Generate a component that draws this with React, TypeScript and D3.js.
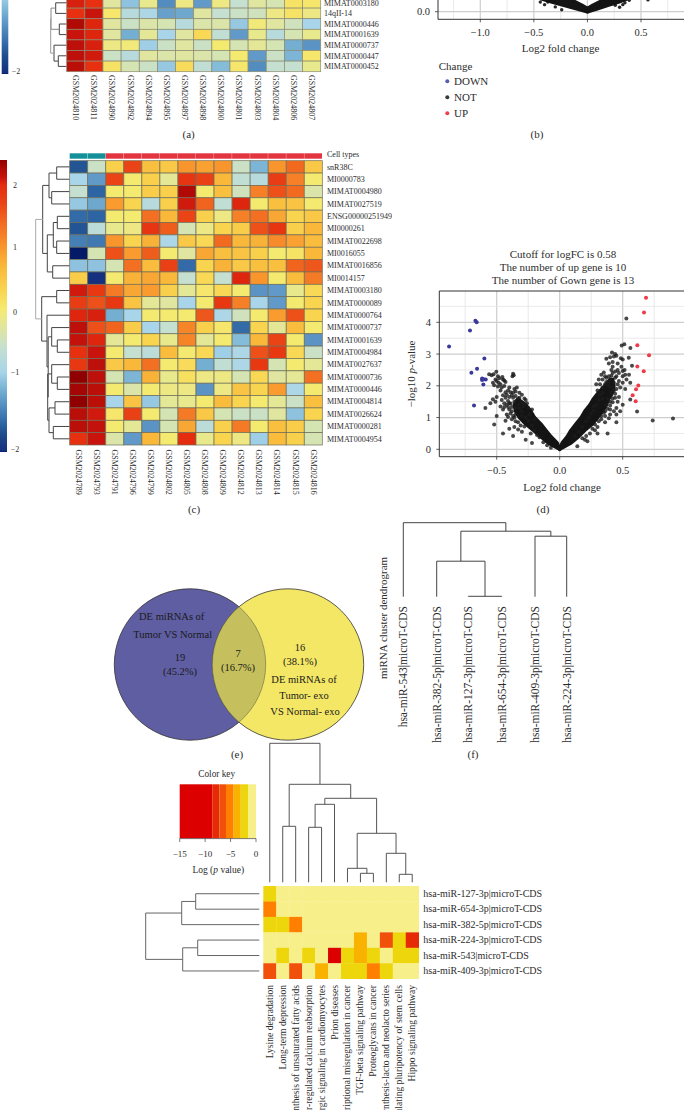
import React from "react";
import * as d3 from "d3";

const SERIF = "'Liberation Serif', serif";
const INK = "#2c2c2c";

// ---------- heat map values ----------
const samplesA = ["GSM2024810","GSM2024811","GSM2024890","GSM2024892","GSM2024894","GSM2024895","GSM2024897","GSM2024898","GSM2024800","GSM2024801","GSM2024803","GSM2024804","GSM2024806","GSM2024807"];
const rowsA = ["MIMAT0003180","14qII-14","MIMAT0000446","MIMAT0001639","MIMAT0000737","MIMAT0000447","MIMAT0000452"];
const valuesA = [
  [2.1,1.95,-0.2,-0.9,-0.1,-1.3,-0.05,-1.2,-0.05,-0.45,-0.2,-0.3,0.15,0.1],
  [1.95,2.2,0.1,-0.6,-0.7,-1.15,-1.1,-0.2,-0.45,-0.4,-0.35,-0.05,0.15,-0.05],
  [2.45,2.05,-0.2,-0.4,-0.25,-0.3,-0.6,-0.25,-0.25,-0.85,0,-0.2,-0.35,-0.75],
  [2.2,2.05,-0.2,-1.05,-0.15,-0.75,-0.2,0.3,-0.5,-1.2,-0.1,-0.6,-0.3,-0.1],
  [2.3,2.1,-0.05,0,-0.8,-0.4,-0.2,-0.4,0.05,-0.3,-0.15,-0.3,-1.05,-1.25],
  [2.3,2.15,-0.4,-0.6,-0.2,-0.25,-0.2,-0.25,-0.3,0.05,-1.2,-0.4,-1.0,0.1],
  [2.35,1.95,0.15,-0.3,-0.4,-0.85,0.25,-0.5,-0.95,0.1,-1.3,-0.45,-0.45,-0.1],
];
const samplesC = ["GSM2024789","GSM2024793","GSM2024791","GSM2024796","GSM2024799","GSM2024802","GSM2024805","GSM2024808","GSM2024809","GSM2024812","GSM2024813","GSM2024814","GSM2024815","GSM2024816"];
const rowsC = ["snR38C","MI0000783","MIMAT0004980","MIMAT0027519","ENSG00000251949","MI0000261","MIMAT0022698","MI0016055","MIMAT0016856","MI0014157","MIMAT0003180","MIMAT0000089","MIMAT0000764","MIMAT0000737","MIMAT0001639","MIMAT0004984","MIMAT0027637","MIMAT0000736","MIMAT0000446","MIMAT0004814","MIMAT0026624","MIMAT0000281","MIMAT0004954"];
const valuesC = [
  [-1.7,-0.4,0.4,1.7,0.6,0.5,1.0,0.9,1.0,-0.4,-1.0,1.0,1.4,0.5],
  [-0.75,-1.2,1.7,0.05,0.4,-0.15,1.9,1.75,0.7,-0.5,-0.6,1.8,1.2,0.05],
  [-0.45,-1.6,0.05,0.05,0.45,0.4,2.45,0.05,0.6,-0.35,1.2,1.6,1.4,-0.25],
  [-0.85,-1.1,0.95,0.35,-0.6,0.4,2.15,1.45,-0.5,2.05,0.05,0.6,0.55,0.05],
  [-1.55,-1.6,0.05,0.05,1.35,0.7,1.7,0.4,-0.05,1.2,1.35,0.85,0.35,0.5],
  [-1.7,-0.55,-0.1,-0.05,1.9,1.5,-0.3,-0.05,0.35,0.45,1.6,1.9,0.4,0.7],
  [-1.4,-1.45,1.0,0.35,0.75,-0.7,0.5,0.3,1.4,0.7,0.75,1.1,0.9,0.65],
  [-2.2,-0.3,1.6,0.95,1.5,0.05,-0.2,0.85,0.6,0.55,0.4,0.05,0.15,0.7],
  [-0.9,-0.9,-0.3,1.35,0.65,1.75,-1.55,0.35,0.75,0.5,0.6,0.6,1.45,1.55],
  [0.45,-2.1,0.05,0.75,0.85,0.7,-0.45,0.3,-0.45,2.05,1.0,0.05,0.65,1.25],
  [2.15,1.85,1.25,0.85,0.95,0.4,-0.15,0.1,0.3,0.05,-1.25,-1.2,-0.1,0.3],
  [1.8,1.6,1.85,0.55,-0.15,-0.2,-0.75,0.05,1.85,1.2,-0.75,-1.2,0.05,0.35],
  [2.05,2.1,-1.05,-0.75,0.05,0.05,0.05,1.55,-0.7,-0.35,0.05,0.95,1.6,0.35],
  [2.3,1.6,1.45,0.45,-0.75,-0.45,1.15,0.4,0.1,-1.55,0.35,-0.15,0.65,0.05],
  [2.25,2.05,-0.15,0.05,0.35,-0.1,1.15,-0.15,0.05,-0.95,0.7,1.7,0.05,-1.25],
  [1.95,2.2,0.05,-0.45,-0.55,0.65,0.05,0.3,-0.8,-0.7,1.6,1.85,0.3,-0.4],
  [1.85,2.3,0.5,0.7,1.35,0.05,0.25,-1.05,-0.5,-0.7,1.85,-0.3,0.05,-0.15],
  [2.7,2.3,-0.3,-1.0,0.75,-0.1,0.2,-0.05,-0.05,-0.3,0.3,-0.2,-0.15,1.35],
  [2.55,2.35,0.05,-0.25,0.05,-0.05,-0.05,-1.25,-0.05,0.55,0.35,0.95,-0.7,0.05],
  [2.7,2.35,-0.75,0.55,-0.85,-0.15,-0.1,0.05,0.65,0.35,0.05,-0.15,-0.4,0.6],
  [2.35,2.15,0.1,1.75,0.05,-0.3,1.25,0.5,-0.3,-0.4,-0.4,-0.2,-0.9,0.35],
  [2.35,2.25,0.05,-0.15,-1.25,-0.3,0.85,-0.55,0.4,1.25,0.05,0.6,0.45,-0.3],
  [1.95,2.2,-0.25,-1.2,0.7,0.05,2.0,-0.1,0.35,-0.05,-0.8,0.65,0.4,-0.3],
];
const cellTypeColors = ["#14909a","#14909a","#e2353f","#e2353f","#e2353f","#e2353f","#e2353f","#e2353f","#e2353f","#e2353f","#e2353f","#e2353f","#e2353f","#e2353f"];

const zStops = [-2.2,-2.1,-1.75,-1.6,-1.25,-1.05,-0.75,-0.45,-0.2,0.05,0.35,0.7,1,1.4,1.7,2,2.2,2.45,2.7];
const zColors = ["#041a66","#14307f","#1f4e8c","#2c64a4","#5a93c4","#74afd2","#a8d5ea","#c5e0d0","#e0e6a0","#f5ea70","#f9d44f","#f9b83a","#f9952d","#f26a20","#ea4416","#e52c0f","#c8140c","#b00a06","#900000"];
const barValues = [-2.2,-2,-0.75,0,1,2,2.7];
const barPositions = [452,449,372,312,247,185,160];
const barTicksC = [-2,-0.75,0,1,2];
const barTickLabelsC = ["−2","−1","0","1","2"];
const barTicksA = [-2];
const barTickLabelsA = ["−2"];

// ---------- dendrograms (h = merge height) ----------
type Tree = number | { h: number; k: [Tree, Tree]; tone?: string };
const treeA: Tree = { h: 16, tone: "#999", k: [
  { h: 15.7, tone: "#888", k: [{ h: 11, k: [0, 1] }, { h: 7.4, k: [2, 3] }] },
  { h: 12.7, k: [4, { h: 8.4, k: [5, 6] }] },
] };
const treeC: Tree = { h: 34, tone: "#aaa", k: [
  { h: 27, k: [
    { h: 20.7, k: [{ h: 13, k: [0, 1] }, { h: 18, k: [2, 3] }] },
    { h: 22.4, k: [
      { h: 16.4, k: [{ h: 12.4, k: [4, 5] }, { h: 13, k: [6, 7] }] },
      { h: 17, k: [8, 9] },
    ] },
  ] },
  { h: 28, k: [
    { h: 13, k: [10, 11] },
    { h: 22.7, k: [12, { h: 21.5, k: [
      { h: 18, k: [13, { h: 12.4, k: [14, 15] }] },
      { h: 22, k: [
        { h: 18, k: [16, { h: 12.4, k: [17, 18] }] },
        { h: 20.7, k: [{ h: 14.7, k: [19, 20] }, { h: 16.4, k: [21, 22] }] },
      ] },
    ] }] },
  ] },
] };
const treeF: Tree = { h: 74, k: [0, { h: 65.5, k: [
  { h: 35.5, k: [1, { h: 0.4, k: [2, 3] }] },
  { h: 60.5, k: [4, 5] },
] }] };
const treeGTop: Tree = { h: 139, k: [0, { h: 98, k: [
  { h: 56, k: [1, 2] },
  { h: 84, k: [
    { h: 78, k: [{ h: 55, k: [3, 4] }, 5] },
    { h: 49, k: [
      { h: 14, k: [6, { h: 9, k: [7, 8] }] },
      { h: 29, k: [9, { h: 8, k: [10, 11] }] },
    ] },
  ] },
] }] };
const treeGLeft: Tree = { h: 113.6, k: [
  { h: 77.6, k: [{ h: 63.6, k: [0, 1] }, 2] },
  { h: 76.6, k: [{ h: 61.6, k: [3, 4] }, 5] },
] };
const treeFLabels = ["hsa-miR-543|microT-CDS","hsa-miR-382-5p|microT-CDS","hsa-miR-127-3p|microT-CDS","hsa-miR-654-3p|microT-CDS","hsa-miR-409-3p|microT-CDS","hsa-miR-224-3p|microT-CDS"];

// ---------- volcano (b) ----------
const coreBLeftY = [0,0.1,0.2,0.3,0.4,0.5];
const coreBLeftOuter = [0,-0.11,-0.22,-0.33,-0.43,-0.5];
const coreBLeftInner = [0,0,-0.05,-0.11,-0.17,-0.23];
const coreBRightY = [0,0.1,0.2,0.3,0.4,0.5];
const coreBRightOuter = [0,0.1,0.19,0.29,0.37,0.42];
const coreBRightInner = [0,0,0.05,0.11,0.17,0.23];
const notB = [[0.565,0.37],[0.565,0.42],[-0.44,0.3],[-0.4,0.22],[-0.37,0.3],[-0.3,0.15],[-0.24,0.06],[0.26,0.2],[0.3,0.14],[0.35,0.28],[0.33,0.22],[0.39,0.36]];

// ---------- volcano (d) ----------
const coreDLeftY = [0,0.2,0.4,0.6,0.8,1,1.2,1.4,1.55];
const coreDLeftOuter = [0,-0.09,-0.15,-0.21,-0.27,-0.32,-0.35,-0.36,-0.34];
const coreDLeftInner = [0,-0.02,-0.07,-0.11,-0.15,-0.2,-0.23,-0.27,-0.32];
const coreDRightY = [0,0.2,0.4,0.6,0.8,1,1.2,1.4,1.6,1.8,2,2.2];
const coreDRightOuter = [0,0.09,0.15,0.2,0.26,0.3,0.34,0.37,0.39,0.42,0.43,0.42];
const coreDRightInner = [0,0.02,0.06,0.09,0.13,0.17,0.2,0.24,0.27,0.31,0.36,0.4];
const notD = [[-0.503,2.44],[-0.54,2.33],[-0.56,2.36],[-0.525,2.36],[-0.49,2.3],[-0.51,2.2],[-0.5,2.15],[-0.53,2.1],[-0.485,2.1],[-0.47,2.05],[-0.45,2.2],[-0.44,2.17],[-0.43,2.12],[-0.37,2.38],[-0.375,2.3],[-0.365,2.33],[-0.44,1.99],[-0.47,1.85],[-0.41,1.85],[-0.39,1.8],[-0.34,1.95],[-0.35,1.82],[-0.38,1.7],[-0.4,1.65],[-0.43,1.62],[-0.45,1.7],[-0.5,1.65],[-0.53,1.58],[-0.51,1.5],[-0.55,1.45],[-0.59,1.3],[-0.46,1.55],[-0.44,1.45],[-0.42,1.4],[-0.47,1.35],[-0.45,1.25],[-0.5,1.05],[-0.42,1.1],[-0.38,1.2],[-0.36,1.5],[-0.33,1.6],[-0.3,1.72],[-0.27,1.55],[-0.26,1.45],[-0.33,1.4],[-0.4,1.25],[-0.35,1.3],[-0.31,1.5],[-0.29,1.35],[-0.25,1.3],[-0.37,1.05],[-0.38,0.95],[-0.33,0.85],[-0.43,0.9],[-0.52,0.78],[-0.45,0.5],[-0.37,0.42],[-0.4,0.65],[-0.3,0.55],[-0.27,0.3],[-0.22,0.2],[-0.23,0.5],[-0.36,0.7],[-0.24,1.1],[-0.22,1.25],[-0.2,0.95],[-0.3,1.2],[-0.28,1.4],[-0.32,1.62],
[-0.41,1.52],[-0.39,1.44],[-0.37,1.62],[-0.35,1.68],[-0.42,1.72],[-0.37,1.78],[-0.32,1.78],[-0.36,1.9],[-0.4,1.95],[-0.43,1.8],[-0.46,1.95],[-0.49,1.98],[-0.52,2.02],[-0.48,2.24],[-0.455,2.28],[-0.41,1.33],[-0.38,1.33],[-0.39,1.13],[-0.41,1.02],[-0.36,1.0],[-0.35,1.1],[-0.32,1.3],[-0.3,1.46],[-0.28,1.6],[-0.3,1.05],[-0.27,1.0],[-0.25,0.9],[-0.22,0.75],[-0.2,0.6],[-0.18,0.45],[-0.16,0.38],[-0.13,0.22],[-0.1,0.13],[-0.07,0.05],[-0.28,0.72],[-0.33,0.62],[-0.31,0.75],[-0.35,0.88],[-0.4,1.45],[-0.44,1.33],
[0.529,4.12],[0.492,3.27],[0.513,3.31],[0.561,3.19],[0.548,2.88],[0.574,2.63],[0.899,0.97],[0.738,0.91],[0.614,1.19],[0.56,1.57],[0.415,3.05],[0.44,3.0],[0.45,2.95],[0.4,2.9],[0.37,2.85],[0.43,2.92],[0.485,2.87],[0.5,2.83],[0.42,2.75],[0.39,2.7],[0.46,2.7],[0.49,2.6],[0.515,2.5],[0.41,2.5],[0.44,2.45],[0.5,2.47],[0.52,2.35],[0.47,2.4],[0.5,2.3],[0.53,2.2],[0.55,2.35],[0.45,2.3],[0.42,2.4],[0.35,2.42],[0.33,2.35],[0.31,2.2],[0.37,2.25],[0.4,2.2],[0.43,2.1],[0.47,2.15],[0.5,2.1],[0.56,2.1],[0.48,1.95],[0.45,1.9],[0.42,1.95],[0.39,2.0],[0.36,2.05],[0.32,2.05],[0.29,2.05],[0.44,1.75],[0.47,1.65],[0.42,1.6],[0.5,1.4],[0.45,1.3],[0.4,1.25],[0.37,1.4],[0.48,1.2],[0.45,1.1],[0.39,0.98],[0.45,0.85],[0.36,0.85],[0.3,0.7],[0.38,0.5],[0.3,0.5],[0.2,0.3],[0.22,0.25],[0.14,0.1],[0.52,1.9],[0.46,2.5],[0.42,2.6],[0.36,2.3],[0.34,2.2],[0.41,1.8],[0.38,1.6],[0.4,1.5],[0.35,1.15],[0.33,0.95],[0.28,0.6],
[0.43,1.85],[0.41,1.72],[0.44,1.62],[0.42,1.48],[0.4,1.38],[0.38,1.28],[0.36,1.2],[0.36,1.05],[0.33,1.05],[0.31,0.88],[0.28,0.78],[0.26,0.65],[0.24,0.5],[0.21,0.42],[0.18,0.35],[0.27,1.22],[0.25,1.12],[0.23,1.0],[0.21,0.88],[0.18,0.7],[0.15,0.55],[0.12,0.42],[0.29,1.4],[0.27,1.35],[0.31,1.55],[0.34,1.78],[0.32,1.72],[0.3,1.85],[0.34,1.95],[0.37,2.12],[0.39,2.3],[0.41,2.32],[0.44,2.25],[0.46,2.05],[0.39,2.12],[0.34,1.6],[0.46,1.5],[0.43,1.2],[0.4,1.1]];
const upD = [[0.685,4.77],[0.669,4.31],[0.616,3.28],[0.709,2.96],[0.616,2.61],[0.667,2.46],[0.624,2.01],[0.606,1.89],[0.579,1.7],[0.603,1.51]];
const downD = [[-0.878,3.24],[-0.669,4.05],[-0.659,4.0],[-0.712,3.74],[-0.598,2.86],[-0.656,2.54],[-0.701,2.41],[-0.616,2.23],[-0.603,2.21],[-0.587,2.2],[-0.606,2.04],[-0.68,1.38],[-0.616,2.18]];
const titleD = ["Cutoff for logFC is 0.58","The number of up gene is 10","The number of Gown gene is 13"];
const legendItems = ["DOWN","NOT","UP"];
const legendColors = ["#5a5ab0","#3a3a3a","#f04050"];

// ---------- pathway heat map (g) ----------
const pathways = ["Lysine degradation","Long-term depression","Biosynthesis of unsaturated fatty acids","Endocrine and other factor-regulated calcium reabsorption","Adrenergic signaling in cardiomyocytes","Prion diseases","Transcriptional misregulation in cancer","TGF-beta signaling pathway","Proteoglycans in cancer","Glycosphingolipid biosynthesis-lacto and neolacto series","Signaling pathways regulating pluripotency of stem cells","Hippo signaling pathway"];
const mirnas = ["hsa-miR-127-3p|microT-CDS","hsa-miR-654-3p|microT-CDS","hsa-miR-382-5p|microT-CDS","hsa-miR-224-3p|microT-CDS","hsa-miR-543|microT-CDS","hsa-miR-409-3p|microT-CDS"];
const pValues = [
  [-2.2,-0.5,-0.5,-0.5,-0.5,-0.5,-0.5,-0.5,-0.5,-0.5,-0.5,-0.5],
  [-5,-0.5,-0.5,-0.5,-0.5,-0.5,-0.5,-0.5,-0.5,-0.5,-0.5,-0.5],
  [-2.2,-2.2,-5,-0.5,-0.5,-0.5,-0.5,-0.5,-0.5,-0.5,-0.5,-0.5],
  [-0.5,-0.5,-0.5,-0.5,-0.5,-0.5,-0.5,-3.5,-0.5,-6.5,-2.2,-8],
  [-0.5,-2.2,-0.5,-2.2,-0.5,-12,-2.2,-3.5,-2.2,-0.5,-2.2,-2.2],
  [-6.5,-0.5,-6.5,-0.5,-3.5,-0.5,-2.2,-2.2,-5,-2.2,-0.5,-0.5],
];
const keyEdges = [-15,-8.6,-7.2,-5.9,-4.4,-3.0,-1.57,0];
const keyColors = ["#dc0000","#e62a06","#f0500a","#ff8000","#fab200","#eed60c","#f7ef8a"];
const keyTicks = [-15,-10,-5,0];

// ---------- venn (e) ----------
const vennPercent = ["19","(45.2%)","7","(16.7%)","16","(38.1%)"];

const zColor = d3.scaleLinear<string>().domain(zStops).range(zColors).interpolate(d3.interpolateRgb);
const barY = d3.scaleLinear().domain(barValues).range(barPositions);

function dendroPath(tree: Tree, pos: (i: number) => number, hPos: (h: number) => number, vertical: boolean) {
  const out: { d: string; tone?: string }[] = [];
  const pt = (p: number, h: number) => (vertical ? `${p},${hPos(h)}` : `${hPos(h)},${p}`);
  const walk = (t: Tree): { p: number; h: number } => {
    if (typeof t === "number") return { p: pos(t), h: 0 };
    const a = walk(t.k[0]);
    const b = walk(t.k[1]);
    out.push({ d: `M${pt(a.p, a.h)}L${pt(a.p, t.h)}L${pt(b.p, t.h)}L${pt(b.p, b.h)}`, tone: t.tone });
    return { p: (a.p + b.p) / 2, h: t.h };
  };
  walk(tree);
  return out;
}

function Dendro({ tree, pos, hPos, vertical = false, stroke = "#444", width = 1 }: any) {
  return (
    <g fill="none" stroke={stroke} strokeWidth={width}>
      {dendroPath(tree, pos, hPos, vertical).map((s, i) => (
        <path key={i} d={s.d} stroke={s.tone || stroke} />
      ))}
    </g>
  );
}

function Heat({ values, samples, rows, x0, x1, y0, y1, labelX, sampleY, stroke }: any) {
  const x = d3.scaleBand<number>().domain(d3.range(samples.length)).range([x0, x1]);
  const y = d3.scaleBand<number>().domain(d3.range(rows.length)).range([y0, y1]);
  return (
    <g>
      {values.map((r: number[], i: number) =>
        r.map((v, j) => (
          <rect key={`${i}-${j}`} x={x(j)} y={y(i)} width={x.bandwidth()} height={y.bandwidth()} fill={zColor(v)} stroke={stroke} strokeWidth={0.7} />
        ))
      )}
      {rows.map((t: string, i: number) => (
        <text key={t + i} x={labelX} y={y(i)! + y.bandwidth() / 2 + 2.7} fontSize={8} fill={INK}>{t}</text>
      ))}
      {samples.map((t: string, j: number) => (
        <text key={t} transform={`translate(${x(j)! + x.bandwidth() / 2 - 2.7},${sampleY}) rotate(90)`} fontSize={8} fill={INK}>{t}</text>
      ))}
    </g>
  );
}

function ColorBar({ id, bx, shift, w, labelX, ticks, labels }: any) {
  const top = barY(2.7) - shift;
  const bottom = barY(-2.2) - shift;
  return (
    <g>
      <defs>
        <linearGradient id={id} x1="0" x2="0" y1="0" y2="1">
          {zStops.slice().reverse().map((z) => (
            <stop key={z} offset={(barY(z) - shift - top) / (bottom - top)} stopColor={zColor(z)} />
          ))}
        </linearGradient>
      </defs>
      <rect x={bx} y={top} width={w} height={bottom - top} fill={`url(#${id})`} />
      {ticks.map((t: number, i: number) => (
        <text key={t} x={labelX} y={barY(t) - shift + 2.7} textAnchor="middle" fontSize={8} fill={INK}>{labels[i]}</text>
      ))}
    </g>
  );
}

function Volcano({ x, y, left, right, top, bottom, xTicks, yTicks, yFmt, gridX, gridY, cores, points, xTickY, yTickX, dotR, coreStroke }: any) {
  const clipId = `clip-${Math.round(left)}-${Math.round(bottom)}`;
  const fmtX = d3.format(".1f");
  return (
    <g>
      <defs>
        <clipPath id={clipId}><rect x={left} y={top} width={right - left} height={bottom - top} /></clipPath>
      </defs>
      {gridX.map((v: number) => (
        <line key={v} x1={x(v)} x2={x(v)} y1={top} y2={bottom} stroke={xTicks.includes(v) ? "#cecece" : "#e4e4e4"} strokeWidth={xTicks.includes(v) ? 1.2 : 0.8} />
      ))}
      {gridY.map((v: number) => (
        <line key={v} x1={left} x2={right} y1={y(v)} y2={y(v)} stroke={yTicks.includes(v) ? "#cecece" : "#e4e4e4"} strokeWidth={yTicks.includes(v) ? 1.2 : 0.8} />
      ))}
      <g clipPath={`url(#${clipId})`}>
        {cores.map((c: any, i: number) => {
          const area = d3.area<number>().x0((_, k) => x(c.outer[k])).x1((_, k) => x(c.inner[k])).y((v) => y(v)).curve(d3.curveLinear);
          return <path key={i} d={area(c.ys) || ""} fill="#141414" stroke="#141414" strokeWidth={coreStroke} strokeLinejoin="round" />;
        })}
        {points.map((s: any, i: number) =>
          s.data.map((p: number[], k: number) => (
            <circle key={`${i}-${k}`} cx={x(p[0])} cy={y(p[1])} r={dotR} fill={s.color} fillOpacity={s.opacity} />
          ))
        )}
      </g>
      <path d={`M${left},${top}L${left},${bottom}L${right},${bottom}`} fill="none" stroke="#333" strokeWidth={1} />
      <line x1={left} x2={right} y1={top} y2={top} stroke="#333" strokeWidth={1} />
      {xTicks.map((t: number) => (
        <g key={t}>
          <line x1={x(t)} x2={x(t)} y1={bottom} y2={bottom + 3} stroke="#333" strokeWidth={0.8} />
          <text x={x(t)} y={xTickY} textAnchor="middle" fontSize={10.5} fill={INK}>{fmtX(t)}</text>
        </g>
      ))}
      {yTicks.map((t: number) => (
        <g key={t}>
          <line x1={left - 3} x2={left} y1={y(t)} y2={y(t)} stroke="#333" strokeWidth={0.8} />
          <text x={yTickX} y={y(t) + 3.5} textAnchor="end" fontSize={10.5} fill={INK}>{yFmt(t)}</text>
        </g>
      ))}
    </g>
  );
}

export default function App() {
  // panel b
  const xB = d3.scaleLinear().domain([-1, 0.5]).range([480.3, 641]);
  const yB = d3.scaleLinear().domain([0, 1]).range([11.7, -20.3]);
  // panel d
  const xD = d3.scaleLinear().domain([-0.5, 0.5]).range([496.7, 622.7]);
  const yD = d3.scaleLinear().domain([0, 4]).range([449.3, 322.3]);
  // panel c/a dendrogram scales
  const hA = d3.scaleLinear().domain([0, 16]).range([66.7, 50.7]);
  const hC = d3.scaleLinear().domain([0, 34]).range([69.7, 35.7]);
  const rowA = d3.scaleBand<number>().domain(d3.range(7)).range([-2.5, 71.7]);
  const rowC = d3.scaleBand<number>().domain(d3.range(23)).range([160.7, 445]);
  const colC = d3.scaleBand<number>().domain(d3.range(14)).range([69.7, 322.3]);
  // panel f
  const leafF = [403.3, 436.7, 468.3, 501.7, 535, 566.7];
  const hF = d3.scaleLinear().domain([0, 74]).range([596.7, 522.7]);
  // panel g
  const colG = d3.scaleBand<number>().domain(d3.range(12)).range([263.3, 418.7]);
  const rowG = d3.scaleBand<number>().domain(d3.range(6)).range([886, 978.7]);
  const hGTop = d3.scaleLinear().domain([0, 139]).range([882.3, 743.3]);
  const hGLeft = d3.scaleLinear().domain([0, 113.6]).range([259.3, 145.7]);
  const keyX = d3.scaleLinear().domain([-15, 0]).range([179.7, 256]);
  const pColor = d3.scaleThreshold<number, string>().domain(keyEdges.slice(1, -1)).range(keyColors);

  const cL = 190, cR = 288, cy = 664.5, r = 75.7;
  const dx = (cR - cL) / 2;
  const half = Math.sqrt(r * r - dx * dx);
  const mid = (cL + cR) / 2;
  const lens = `M${mid},${cy - half}A${r},${r} 0 0 1 ${mid},${cy + half}A${r},${r} 0 0 1 ${mid},${cy - half}Z`;

  return (
    <svg width={684} height={1110} viewBox="0 0 684 1110" style={{ position: "absolute", left: 0, top: 0, background: "#fff" }} fontFamily={SERIF}>
      {/* (a) */}
      <ColorBar id="barA" bx={1.7} shift={378} w={6.6} labelX={16} ticks={barTicksA} labels={barTickLabelsA} />
      <Dendro tree={treeA} pos={(i: number) => rowA(i)! + rowA.bandwidth() / 2} hPos={hA} />
      <Heat values={valuesA} samples={samplesA} rows={rowsA} x0={66.7} x1={320.7} y0={-2.5} y1={71.7} labelX={324} sampleY={75} stroke="#8a8a70" />
      <text x={188.7} y={138} textAnchor="middle" fontSize={11} fill={INK}>(a)</text>

      {/* (b) */}
      <Volcano x={xB} y={yB} left={438} right={684} top={-6} bottom={19.3}
        xTicks={[-1, -0.5, 0, 0.5]} yTicks={[0]} yFmt={d3.format(".1f")}
        gridX={[-1.25, -1, -0.75, -0.5, -0.25, 0, 0.25, 0.5, 0.75]} gridY={[0]}
        cores={[
          { ys: coreBLeftY, outer: coreBLeftOuter, inner: coreBLeftInner },
          { ys: coreBRightY, outer: coreBRightOuter, inner: coreBRightInner },
        ]}
        points={[{ data: notB, color: "#111", opacity: 0.9 }]}
        xTickY={35.5} yTickX={430} dotR={1.7} coreStroke={3.5} />
      <text x={560.5} y={52} textAnchor="middle" fontSize={11} fill={INK}>Log2 fold change</text>
      <text x={438.7} y={69.5} fontSize={11} fill={INK}>Change</text>
      {legendItems.map((t, i) => (
        <g key={t}>
          <circle cx={447.3} cy={81.3 + i * 16} r={2} fill={legendColors[i]} />
          <text x={454} y={85 + i * 16} fontSize={11} fill={INK}>{t}</text>
        </g>
      ))}
      <text x={537} y={138} textAnchor="middle" fontSize={11} fill={INK}>(b)</text>

      {/* (c) */}
      <ColorBar id="barC" bx={0} shift={0} w={7} labelX={15} ticks={barTicksC} labels={barTickLabelsC} />
      <Dendro tree={treeC} pos={(i: number) => rowC(i)! + rowC.bandwidth() / 2} hPos={hC} />
      {cellTypeColors.map((c, j) => (
        <rect key={j} x={colC(j)} y={153.3} width={colC.bandwidth() - 0.3} height={5.4} fill={c} />
      ))}
      <text x={327} y={156.5} fontSize={8} fill={INK}>Cell types</text>
      <Heat values={valuesC} samples={samplesC} rows={rowsC} x0={69.7} x1={322.3} y0={160.7} y1={445} labelX={327} sampleY={449.5} stroke="#6e6e58" />
      <text x={194} y={513} textAnchor="middle" fontSize={11} fill={INK}>(c)</text>

      {/* (d) */}
      {titleD.map((t, i) => (
        <text key={t} x={563} y={257.5 + i * 13} textAnchor="middle" fontSize={11} fill={INK}>{t}</text>
      ))}
      <Volcano x={xD} y={yD} left={439.3} right={684} top={291} bottom={456.7}
        xTicks={[-0.5, 0, 0.5]} yTicks={[0, 1, 2, 3, 4]} yFmt={d3.format("d")}
        gridX={[-0.75, -0.5, -0.25, 0, 0.25, 0.5, 0.75]} gridY={[0, 0.5, 1, 1.5, 2, 2.5, 3, 3.5, 4, 4.5]}
        cores={[
          { ys: coreDLeftY, outer: coreDLeftOuter, inner: coreDLeftInner },
          { ys: coreDRightY, outer: coreDRightOuter, inner: coreDRightInner },
        ]}
        points={[
          { data: notD, color: "#1c1c1c", opacity: 0.8 },
          { data: upD, color: "#f03a48", opacity: 1 },
          { data: downD, color: "#3a3a9a", opacity: 1 },
        ]}
        xTickY={474} yTickX={431} dotR={2} coreStroke={3.5} />
      <text x={562} y={491} textAnchor="middle" fontSize={11} fill={INK}>Log2 fold change</text>
      <text transform="translate(415,374) rotate(-90)" textAnchor="middle" fontSize={11} fill={INK}>
        −log10 <tspan fontStyle="italic">p</tspan>-value
      </text>
      <text x={543} y={513} textAnchor="middle" fontSize={11} fill={INK}>(d)</text>

      {/* (e) */}
      <circle cx={cL} cy={cy} r={r} fill="#5f5ea3" stroke="#333" strokeWidth={0.8} />
      <circle cx={cR} cy={cy} r={r} fill="#f4e766" stroke="#333" strokeWidth={0.8} />
      <path d={lens} fill="#c5c05d" stroke="#6a6a4a" strokeWidth={0.6} />
      <g fontSize={10.5} textAnchor="middle" fill="#1a1a1a">
        <text x={171.7} y={619.5}>DE miRNAs of</text>
        <text x={172.7} y={637.5}>Tumor VS Normal</text>
        <text x={180} y={660.5}>{vennPercent[0]}</text>
        <text x={180} y={674.5}>{vennPercent[1]}</text>
        <text x={238} y={656.5}>{vennPercent[2]}</text>
        <text x={238} y={670.5}>{vennPercent[3]}</text>
        <text x={300} y={650.5}>{vennPercent[4]}</text>
        <text x={300} y={664.5}>{vennPercent[5]}</text>
        <text x={304} y={682.5}>DE miRNAs of</text>
        <text x={304} y={698.5}>Tumor- exo</text>
        <text x={305} y={714.5}>VS Normal- exo</text>
      </g>
      <text x={237} y={758} textAnchor="middle" fontSize={11} fill={INK}>(e)</text>

      {/* (f) */}
      <Dendro tree={treeF} pos={(i: number) => leafF[i]} hPos={hF} vertical width={1} />
      {treeFLabels.map((t, i) => (
        <text key={t} transform={`translate(${leafF[i] + 4},606) rotate(-90)`} textAnchor="end" fontSize={11.5} fill={INK}>{t}</text>
      ))}
      <text transform="translate(387,618) rotate(-90)" textAnchor="middle" fontSize={11} fill={INK}>miRNA cluster dendrogram</text>
      <text x={473} y={758} textAnchor="middle" fontSize={11} fill={INK}>(f)</text>

      {/* (g) */}
      <text x={216.7} y={777} textAnchor="middle" fontSize={9.3} fill={INK}>Color key</text>
      {keyColors.map((c, i) => (
        <rect key={c} x={keyX(keyEdges[i])} y={784.3} width={keyX(keyEdges[i + 1]) - keyX(keyEdges[i])} height={54} fill={c} />
      ))}
      <line x1={keyX(-15)} x2={keyX(0)} y1={838.6} y2={838.6} stroke="#444" strokeWidth={0.7} />
      {keyTicks.map((t) => (
        <g key={t}>
          <line x1={keyX(t)} x2={keyX(t)} y1={838.5} y2={842} stroke="#444" strokeWidth={0.7} />
          <text x={keyX(t)} y={857} textAnchor="middle" fontSize={9} fill={INK}>{d3.format("d")(t)}</text>
        </g>
      ))}
      <text x={218.3} y={873} textAnchor="middle" fontSize={9.5} fill={INK}>
        Log (<tspan fontStyle="italic">p</tspan> value)
      </text>
      <Dendro tree={treeGTop} pos={(i: number) => colG(i)! + colG.bandwidth() / 2} hPos={hGTop} vertical stroke="#555" />
      <Dendro tree={treeGLeft} pos={(i: number) => rowG(i)! + rowG.bandwidth() / 2} hPos={hGLeft} stroke="#666" />
      {pValues.map((row, i) =>
        row.map((v, j) => (
          <rect key={`${i}-${j}`} x={colG(j)} y={rowG(i)} width={colG.bandwidth() + 0.3} height={rowG.bandwidth() + 0.3} fill={pColor(v)} />
        ))
      )}
      {mirnas.map((t, i) => (
        <text key={t} x={423.3} y={rowG(i)! + rowG.bandwidth() / 2 + 3.3} fontSize={10} fill={INK}>{t}</text>
      ))}
      {pathways.map((t, j) => (
        <text key={t} transform={`translate(${colG(j)! + colG.bandwidth() / 2 + 3},985) rotate(-90)`} textAnchor="end" fontSize={9.6} fill={INK}>{t}</text>
      ))}
    </svg>
  );
}
